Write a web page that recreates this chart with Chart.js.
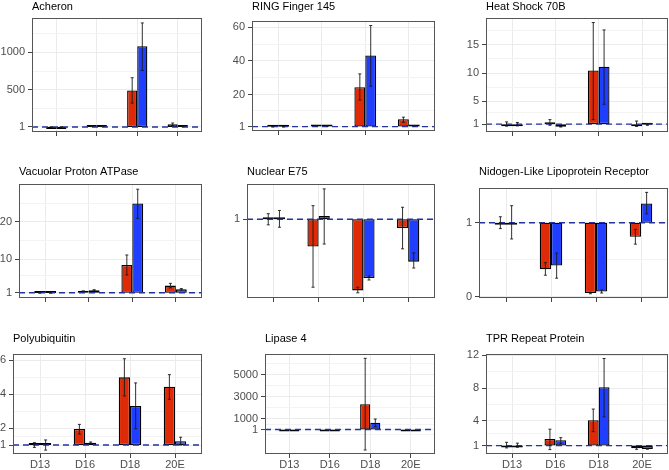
<!DOCTYPE html>
<html>
<head>
<meta charset="utf-8">
<script src="https://cdn.jsdelivr.net/npm/chart.js@4.4.1/dist/chart.umd.min.js"></script>
<style>
  body { margin: 0; background: #fff; }
  #wrap { position: relative; width: 669px; height: 470px; }
  #wrap canvas { position: absolute; }
</style>
</head>
<body>
<div id="wrap"></div>
<script>
const stages = ['D13', 'D16', 'D18', '20E'];

// fold change, red series then blue series, error bars as [low, high]
const acheronRed = [1.0, 12, 490, 37];
const acheronBlue = [1.0, 10, 1081, 8];
const acheronRedErr = [[0.9, 1.1], [6, 18], [321, 660], [20, 54]];
const acheronBlueErr = [[0.9, 1.1], [6, 14], [757, 1393], [5, 11]];
const acheronTicks = [1, 500, 1000];

const ringRed = [0.9, 1.5, 24.4, 5.4];
const ringBlue = [0.9, 1.4, 43.2, 1.5];
const ringRedErr = [[0.85, 0.95], [1.3, 1.7], [16.8, 32.3], [3.6, 6.6]];
const ringBlueErr = [[0.85, 0.95], [1.2, 1.6], [25, 61], [1.3, 1.7]];
const ringTicks = [1, 20, 40, 60];

const heatRed = [1.0, 1.3, 10.45, 1.0];
const heatBlue = [1.0, 0.55, 11.1, 0.9];
const heatRedErr = [[0.65, 1.4], [0.8, 1.8], [1.8, 18.9], [0.6, 1.55]];
const heatBlueErr = [[0.7, 1.3], [0.5, 0.6], [4.5, 17.6], [0.8, 1.0]];
const heatTicks = [1, 5, 10, 15];

const vacuolarRed = [0.95, 1.4, 8.4, 2.9];
const vacuolarBlue = [0.95, 1.65, 24.9, 1.9];
const vacuolarRedErr = [[0.9, 1.0], [1.3, 1.5], [5.75, 11.1], [2.3, 3.5]];
const vacuolarBlueErr = [[0.9, 1.0], [1.5, 1.8], [20.9, 28.7], [1.7, 2.1]];
const vacuolarTicks = [1, 10, 20];

const nuclearRed = [1.0, 0.66, 0.11, 0.89];
const nuclearBlue = [1.0, 1.04, 0.265, 0.47];
const nuclearRedErr = [[0.93, 1.07], [0.15, 1.17], [0.08, 0.15], [0.63, 1.15]];
const nuclearBlueErr = [[0.9, 1.11], [0.69, 1.38], [0.24, 0.29], [0.39, 0.58]];
const nuclearTicks = [1];

const nidogenRed = [1.0, 0.37, 0.05, 0.81];
const nidogenBlue = [1.0, 0.42, 0.07, 1.26];
const nidogenRedErr = [[0.92, 1.08], [0.29, 0.46], [0.04, 0.06], [0.71, 0.91]];
const nidogenBlueErr = [[0.78, 1.23], [0.25, 0.59], [0.05, 0.09], [1.12, 1.41]];
const nidogenTicks = [0, 1];

const polyRed = [1.0, 1.95, 5.0, 4.45];
const polyBlue = [1.0, 1.14, 3.3, 1.22];
const polyRedErr = [[0.86, 1.14], [1.65, 2.22], [3.9, 6.1], [3.7, 5.16]];
const polyBlueErr = [[0.7, 1.3], [1.1, 1.18], [1.96, 4.67], [1.0, 1.46]];
const polyTicks = [1, 2, 4, 6];

const lipaseRed = [1, 1, 2290, 1];
const lipaseBlue = [1, 1, 620, 1];
const lipaseRedErr = [null, null, [-1860, 6470], null];
const lipaseBlueErr = [null, null, [255, 955], null];
const lipaseTicks = [1, 1000, 3000, 5000];

const tprRed = [1.0, 1.8, 4.1, 0.67];
const tprBlue = [1.0, 1.65, 8.1, 0.6];
const tprRedErr = [[0.72, 1.4], [0.52, 3.0], [2.7, 5.45], [0.55, 0.8]];
const tprBlueErr = [[0.8, 1.3], [1.2, 1.97], [4.5, 11.6], [0.56, 0.64]];
const tprTicks = [1, 4, 8, 12];

const RED = '#DE2A07';
const BLUE = '#1F3EFF';
const FONT = '"Liberation Sans", Arial, sans-serif';

const cellW = 223;
const cellTop = [0, 157, 313];
const cellH = [157, 156, 157];

// box = plot area [left, top, right, bottom] on the page, titleY = title baseline in the cell
const panels = [
  { title: 'Acheron', red: acheronRed, blue: acheronBlue, redErr: acheronRedErr, blueErr: acheronBlueErr,
    ticks: acheronTicks, min: -66, max: 1459, col: 0, row: 0, box: [32, 18, 202, 132], titleY: 9.5 },
  { title: 'RING Finger 145', red: ringRed, blue: ringBlue, redErr: ringRedErr, blueErr: ringBlueErr,
    ticks: ringTicks, min: -1.6, max: 63.7, col: 1, row: 0, box: [252, 21, 435, 131], titleY: 9.5 },
  { title: 'Heat Shock 70B', red: heatRed, blue: heatBlue, redErr: heatRedErr, blueErr: heatBlueErr,
    ticks: heatTicks, min: -0.38, max: 19.7, col: 2, row: 0, box: [486, 18, 668, 132], titleY: 9.5 },
  { title: 'Vacuolar Proton ATPase', red: vacuolarRed, blue: vacuolarBlue, redErr: vacuolarRedErr, blueErr: vacuolarBlueErr,
    ticks: vacuolarTicks, min: -0.42, max: 30.1, col: 0, row: 1, box: [19, 184, 202, 298], titleY: 18 },
  { title: 'Nuclear E75', red: nuclearRed, blue: nuclearBlue, redErr: nuclearRedErr, blueErr: nuclearBlueErr,
    ticks: nuclearTicks, min: 0.015, max: 1.441, col: 1, row: 1, box: [247, 184, 435, 298], titleY: 18 },
  { title: 'Nidogen-Like Lipoprotein Receptor', red: nidogenRed, blue: nidogenBlue, redErr: nidogenRedErr, blueErr: nidogenBlueErr,
    ticks: nidogenTicks, min: -0.018, max: 1.469, col: 2, row: 1, box: [479, 188, 668, 298], titleY: 18 },
  { title: 'Polyubiquitin', red: polyRed, blue: polyBlue, redErr: polyRedErr, blueErr: polyBlueErr,
    ticks: polyTicks, min: 0.47, max: 6.38, col: 0, row: 2, box: [13, 354, 202, 454], titleY: 29 },
  { title: 'Lipase 4', red: lipaseRed, blue: lipaseBlue, redErr: lipaseRedErr, blueErr: lipaseBlueErr,
    ticks: lipaseTicks, min: -2226, max: 6864, col: 1, row: 2, box: [265, 354, 435, 454], titleY: 29 },
  { title: 'TPR Repeat Protein', red: tprRed, blue: tprBlue, redErr: tprRedErr, blueErr: tprBlueErr,
    ticks: tprTicks, min: -0.02, max: 12.15, col: 2, row: 2, box: [486, 354, 668, 454], titleY: 29 }
];

// ggplot style minor breaks: midpoints, extended one step past each end
function minorBreaks(major) {
  if (major.length < 2) return [];
  const n = major.length;
  const ext = [major[0] - (major[1] - major[0])].concat(major, [major[n - 1] + (major[n - 1] - major[n - 2])]);
  const out = [];
  for (let i = 0; i < ext.length - 1; i++) out.push((ext[i] + ext[i + 1]) / 2);
  return out;
}

function decoPlugin(p) {
  return {
    id: 'deco',
    afterDatasetsDraw(chart) {
      const ctx = chart.ctx, area = chart.chartArea, ys = chart.scales.y;
      const y1 = ys.getPixelForValue(1);
      ctx.save();
      ctx.strokeStyle = '#23349A';
      ctx.lineWidth = 1.4;
      ctx.setLineDash([6, 4]);
      ctx.beginPath();
      ctx.moveTo(area.left, y1);
      ctx.lineTo(area.right, y1);
      ctx.stroke();
      ctx.restore();

      ctx.save();
      ctx.strokeStyle = '#1a1a1a';
      ctx.lineWidth = 0.9;
      chart.data.datasets.forEach((ds, di) => {
        chart.getDatasetMeta(di).data.forEach((bar, i) => {
          const e = ds.err[i];
          if (!e) return;
          const top = ys.getPixelForValue(e[1]);
          const bot = ys.getPixelForValue(e[0]);
          ctx.beginPath();
          ctx.moveTo(bar.x, top); ctx.lineTo(bar.x, bot);
          ctx.moveTo(bar.x - 1.5, top); ctx.lineTo(bar.x + 1.5, top);
          ctx.moveTo(bar.x - 1.5, bot); ctx.lineTo(bar.x + 1.5, bot);
          ctx.stroke();
        });
      });
      ctx.restore();
    },
    afterDraw(chart) {
      const ctx = chart.ctx, area = chart.chartArea;
      ctx.save();
      ctx.strokeStyle = '#555';
      ctx.lineWidth = 1;
      ctx.strokeRect(area.left + 0.5, area.top + 0.5, area.width - 1, area.height - 1);
      ctx.fillStyle = '#000';
      ctx.font = '11px ' + FONT;
      ctx.textBaseline = 'alphabetic';
      ctx.textAlign = 'left';
      ctx.fillText(p.title, area.left, p.titleY);
      ctx.restore();
    }
  };
}

const wrap = document.getElementById('wrap');

panels.forEach(p => {
  const cx = p.col * cellW, cy = cellTop[p.row], ch = cellH[p.row];
  const [L, T, R, B] = p.box;
  const bottomRow = p.row === 2;
  const xh = bottomRow ? 16 : 6;

  const canvas = document.createElement('canvas');
  canvas.width = cellW;
  canvas.height = ch;
  canvas.style.left = cx + 'px';
  canvas.style.top = cy + 'px';
  wrap.appendChild(canvas);

  new Chart(canvas.getContext('2d'), {
    type: 'bar',
    data: {
      datasets: [
        { data: p.red.map((v, i) => ({ x: i + 1, y: [1, v] })), err: p.redErr, backgroundColor: RED },
        { data: p.blue.map((v, i) => ({ x: i + 1, y: [1, v] })), err: p.blueErr, backgroundColor: BLUE }
      ]
    },
    options: {
      responsive: false,
      maintainAspectRatio: false,
      animation: false,
      devicePixelRatio: 1,
      layout: { padding: { left: 0, top: T - cy, right: cx + cellW - R, bottom: ch - (B - cy) - xh } },
      plugins: { legend: { display: false }, tooltip: { enabled: false } },
      datasets: {
        bar: {
          categoryPercentage: 0.5,
          barPercentage: 1,
          borderWidth: 1.3,
          borderColor: '#000',
          borderSkipped: false,
          minBarLength: 2
        }
      },
      scales: {
        x: {
          type: 'linear',
          min: 0.4,
          max: 4.6,
          offset: false,
          bounds: 'data',
          afterBuildTicks: scale => { scale.ticks = stages.map((s, i) => ({ value: i + 1 })); },
          afterFit: scale => { scale.height = xh; },
          ticks: {
            display: bottomRow,
            autoSkip: false,
            maxRotation: 0,
            padding: 0,
            color: '#4D4D4D',
            font: { family: FONT, size: 11 },
            callback: value => stages[value - 1]
          },
          grid: { offset: false, color: '#EBEBEB', lineWidth: 1, tickLength: 4, tickColor: '#444' },
          border: { display: false }
        },
        y: {
          type: 'linear',
          min: p.min,
          max: p.max,
          beginAtZero: false,
          bounds: 'data',
          afterBuildTicks: scale => {
            scale.ticks = p.ticks.map(v => ({ value: v, minor: false }))
              .concat(minorBreaks(p.ticks).map(v => ({ value: v, minor: true })))
              .filter(t => t.value >= p.min && t.value <= p.max)
              .sort((a, b) => a.value - b.value);
          },
          afterFit: scale => { scale.width = L - cx; },
          ticks: {
            autoSkip: false,
            padding: 3,
            color: '#4D4D4D',
            font: { family: FONT, size: 11 },
            callback: (value, index, ticks) => ticks[index].minor ? '' : String(value)
          },
          grid: {
            color: c => (c.tick && c.tick.minor) ? '#F3F3F3' : '#EBEBEB',
            lineWidth: 1,
            tickLength: 4,
            tickColor: c => (c.tick && c.tick.minor) ? 'rgba(0,0,0,0)' : '#444'
          },
          border: { display: false }
        }
      }
    },
    plugins: [decoPlugin(p)]
  });
});
</script>
</body>
</html>
